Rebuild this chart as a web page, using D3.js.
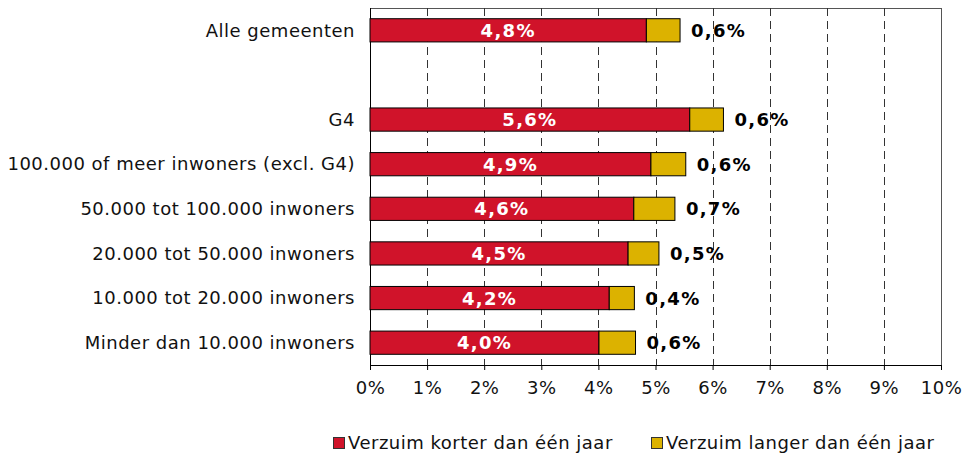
<!DOCTYPE html>
<html>
<head>
<meta charset="utf-8" />
<script src="https://d3js.org/d3.v7.min.js"></script>
<style>
  body { margin: 0; background: #fff; }
  svg text { font-family: "DejaVu Sans", Verdana, sans-serif; }
</style>
</head>
<body>
<div id="chart"></div>
<script>
// categories (empty string = spacer row)
var categories = ["Alle gemeenten", "", "G4", "100.000 of meer inwoners (excl. G4)",
  "50.000 tot 100.000 inwoners", "20.000 tot 50.000 inwoners",
  "10.000 tot 20.000 inwoners", "Minder dan 10.000 inwoners"];
var korter = [4.84, null, 5.6, 4.92, 4.62, 4.52, 4.19, 4.01];
var langer = [0.59, null, 0.59, 0.61, 0.72, 0.54, 0.44, 0.64];
var xTicks = [0, 1, 2, 3, 4, 5, 6, 7, 8, 9, 10];
var seriesNames = ["Verzuim korter dan één jaar", "Verzuim langer dan één jaar"];
var colors = ["#d0132a", "#dcb200"];

var margin = {top: 8, right: 23, bottom: 90, left: 370},
    width = 964 - margin.left - margin.right,
    height = 455 - margin.top - margin.bottom;

var svg = d3.select("#chart").append("svg")
    .attr("width", 964)
    .attr("height", 455);

var g = svg.append("g")
    .attr("transform", "translate(" + margin.left + "," + margin.top + ")");

var x = d3.scaleLinear().domain([0, 10]).range([0, width]);
var y = d3.scaleBand().domain(d3.range(categories.length)).range([0, height]).paddingInner(0.48).paddingOuter(0.24);

function fmt(v) { return v.toFixed(1).replace(".", ",") + "%"; }

// frame
g.append("rect")
    .attr("x", 0.5).attr("y", 0.5)
    .attr("width", width).attr("height", height)
    .style("fill", "none").style("stroke", "#555").style("stroke-width", 1);

// dashed gridlines
g.selectAll(".grid")
    .data(xTicks.slice(1, -1))
    .enter().append("line")
    .attr("class", "grid")
    .attr("x1", function(d) { return Math.round(x(d)) + 0.5; })
    .attr("x2", function(d) { return Math.round(x(d)) + 0.5; })
    .attr("y1", 0).attr("y2", height)
    .style("stroke", "#333")
    .style("stroke-dasharray", "8,5");

// x axis
var xAxis = d3.axisBottom(x)
    .tickValues(xTicks)
    .tickSize(5)
    .tickPadding(11)
    .tickFormat(function(d) { return d + "%"; });

var ax = g.append("g")
    .attr("transform", "translate(0," + height + ")")
    .call(xAxis);
ax.select(".domain").style("stroke", "#000");
ax.selectAll(".tick line").style("stroke", "#000");
ax.selectAll("text")
    .style("font-size", "18px")
    .style("letter-spacing", "0.5px")
    .style("fill", "#111")
    .style("font-family", "'DejaVu Sans', Verdana, sans-serif");

// left axis line
g.append("line")
    .attr("x1", 0.5).attr("x2", 0.5)
    .attr("y1", 0).attr("y2", height)
    .style("stroke", "#000");

// category labels
g.selectAll(".cat")
    .data(categories)
    .enter().append("text")
    .attr("class", "cat")
    .attr("x", -15)
    .attr("y", function(d, i) { return y(i) + y.bandwidth() / 2; })
    .attr("dy", "0.35em")
    .style("text-anchor", "end")
    .style("font-size", "18px")
    .style("letter-spacing", "0.5px")
    .style("fill", "#111")
    .text(function(d) { return d; });

var rows = categories.map(function(c, i) { return {i: i, k: korter[i], l: langer[i]}; })
    .filter(function(d) { return d.k != null; });

// red bars
g.selectAll(".korter")
    .data(rows)
    .enter().append("rect")
    .attr("class", "korter")
    .attr("x", x(0))
    .attr("y", function(d) { return y(d.i); })
    .attr("width", function(d) { return x(d.k) - x(0); })
    .attr("height", y.bandwidth())
    .style("fill", colors[0])
    .style("stroke", "#000")
    .style("stroke-width", 1);

// yellow bars
g.selectAll(".langer")
    .data(rows)
    .enter().append("rect")
    .attr("class", "langer")
    .attr("x", function(d) { return x(d.k); })
    .attr("y", function(d) { return y(d.i); })
    .attr("width", function(d) { return x(d.k + d.l) - x(d.k); })
    .attr("height", y.bandwidth())
    .style("fill", colors[1])
    .style("stroke", "#000")
    .style("stroke-width", 1);

// labels inside red bars
g.selectAll(".lblK")
    .data(rows)
    .enter().append("text")
    .attr("class", "lblK")
    .attr("x", function(d) { return x(d.k / 2); })
    .attr("y", function(d) { return y(d.i) + y.bandwidth() / 2; })
    .attr("dy", "0.36em")
    .style("text-anchor", "middle")
    .style("font-size", "18px")
    .style("letter-spacing", "1.3px")
    .style("font-weight", "bold")
    .style("fill", "#fff")
    .text(function(d) { return fmt(d.k); });

// labels after yellow bars
g.selectAll(".lblL")
    .data(rows)
    .enter().append("text")
    .attr("class", "lblL")
    .attr("x", function(d) { return x(d.k + d.l) + 11; })
    .attr("y", function(d) { return y(d.i) + y.bandwidth() / 2; })
    .attr("dy", "0.36em")
    .style("font-size", "18px")
    .style("letter-spacing", "1.3px")
    .style("font-weight", "bold")
    .style("fill", "#000")
    .text(function(d) { return fmt(d.l); });

// legend
var legendX = [333, 651];
var leg = svg.selectAll(".leg")
    .data(seriesNames)
    .enter().append("g")
    .attr("class", "leg")
    .attr("transform", function(d, i) { return "translate(" + legendX[i] + ",437)"; });
leg.append("rect")
    .attr("x", 0.5).attr("y", 0.5)
    .attr("width", 11).attr("height", 11)
    .style("fill", function(d, i) { return colors[i]; })
    .style("stroke", "#333");
leg.append("text")
    .attr("x", 15)
    .attr("y", 6)
    .attr("dy", "0.35em")
    .style("font-size", "18px")
    .style("letter-spacing", "0.5px")
    .style("fill", "#111")
    .text(function(d) { return d; });
</script>
</body>
</html>
